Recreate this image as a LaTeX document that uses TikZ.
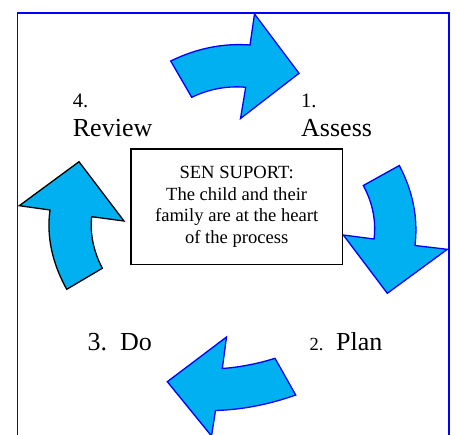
\documentclass[tikz,border=0pt]{standalone}
\usepackage{fontspec}
\setmainfont{Liberation Serif}
\definecolor{arrowfill}{RGB}{0,176,240}
\definecolor{framecol}{RGB}{0,0,255}
\tikzset{
  cyclearrow/.style={fill=arrowfill, draw=framecol, line width=1.3pt, line join=miter},
  cyclearrowdark/.style={fill=arrowfill, draw=black, line width=1.3pt, line join=miter},
  centerbox/.style={draw=black, line width=1.4pt, fill=white, align=center, inner sep=0pt,
    font=\fontsize{18.6}{21.6}\selectfont},
  biglabel/.style={anchor=base west, inner sep=0pt, font=\fontsize{26}{26}\selectfont},
  numlabel/.style={anchor=base west, inner sep=0pt, font=\fontsize{20.5}{20.5}\selectfont},
  smallnum/.style={anchor=base west, inner sep=0pt, font=\fontsize{18.5}{18.5}\selectfont}
}
\begin{document}
\begin{tikzpicture}[x=1pt, y=-1pt]
\useasboundingbox (0,0) rectangle (457,434);
\fill[white] (0,0) rectangle (457,434);
% frame (open at the bottom)
\coordinate (fbl) at (17.3,436);
\coordinate (ftl) at (17.3,13);
\coordinate (ftr) at (449,13);
\coordinate (fbr) at (449,436);
\draw[framecol, line width=1.4pt] (fbl) -- (ftl) -- (ftr) -- (fbr);

% top arrow (towards Assess)
\draw[cyclearrow] (170.7,61) .. controls (196.7,48.3) and (223.1,43) .. (250,45)
  -- (254.5,14) -- (299,73.3) -- (240.5,118.5) -- (245.7,87.3)
  .. controls (227.4,85.6) and (209.4,88.9) .. (191.7,97.3) -- cycle;

% right arrow (towards Plan)
\draw[cyclearrow] (363.3,185.5) -- (399.3,165.5)
  .. controls (413,191.5) and (418.2,218.2) .. (415,245.5)
  -- (447.3,249.3) -- (387.3,293.3) -- (343.3,235) -- (374,239)
  .. controls (376.2,220.8) and (372.7,203) .. cycle;

% bottom arrow (towards Do)
\draw[cyclearrow] (275,358.3) -- (295.7,395)
  .. controls (269,404.5) and (242.2,409.7) .. (215.5,410.5)
  -- (211.5,436) -- (167.3,381.7) -- (226.5,337) -- (222.3,368.5)
  .. controls (239.8,367.2) and (257.4,363.8) .. cycle;

% left arrow (towards Review)
\draw[cyclearrowdark] (79,161.7) -- (124,221) -- (91.7,216.7)
  .. controls (89.9,233.9) and (93.4,251.1) .. (102.3,268.3)
  -- (66.7,289.3)
  .. controls (52,262.7) and (46.4,236.2) .. (50,210)
  -- (19.3,205.7) -- cycle;

% centre box
\node[centerbox, minimum width=211.3pt, minimum height=115.3pt] (centre) at (236.65,206.65)
  {SEN SUPORT:\\The child and their\\family are at the heart\\of the process};

% labels
\node[numlabel] (n4) at (72.7,107.3) {4.};
\node[biglabel] (review) at (72.7,136.7) {Review};
\node[numlabel] (n1) at (301,107.3) {1.};
\node[biglabel] (assess) at (301,136.7) {Assess};
\node[biglabel] (do) at (87.3,350.7) {3.~~Do};
\node[smallnum] (n2) at (309.3,350.7) {2.};
\node[biglabel] (plan) at (336,350.7) {Plan};
\end{tikzpicture}
\end{document}
